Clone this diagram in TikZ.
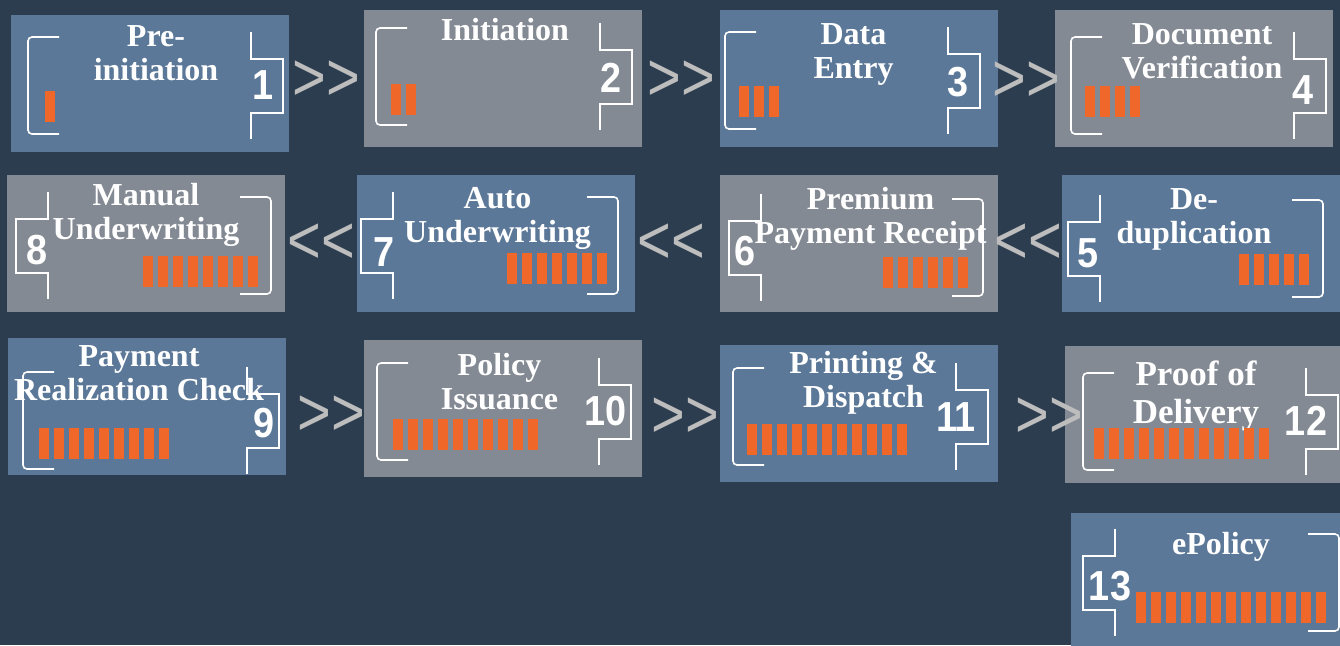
\documentclass[tikz,border=0pt]{standalone}
\usepackage{fontspec}
\newfontfamily\titleFont{Liberation Serif}
\newfontfamily\numFont[FakeStretch=0.9]{Liberation Sans}
\newfontfamily\arrowFont[FakeStretch=0.85]{Liberation Sans}
\usepackage{xcolor}
\definecolor{pageBg}{HTML}{2C3D50}
\definecolor{stepBlue}{HTML}{5B7898}
\definecolor{stepGrey}{HTML}{848A93}
\definecolor{barOrange}{HTML}{F0672A}
\definecolor{arrowGrey}{HTML}{BDBDBD}
\usetikzlibrary{positioning,calc}
\tikzset{%
  stageBox/.style={%
    rectangle,
    inner sep=0pt,
    outer sep=0pt,
    minimum width=139pt,
    minimum height=68.5pt,
    anchor=north west
  },
  blueBox/.style={stageBox, fill=stepBlue},
  greyBox/.style={stageBox, fill=stepGrey},
  titleText/.style={%
    text=white,
    font=\titleFont\bfseries\fontsize{16}{17}\selectfont,
    align=center,
    anchor=north,
    inner sep=0pt
  },
  stepNumber/.style={%
    text=white,
    font=\numFont\bfseries\fontsize{21}{21}\selectfont,
    inner sep=0pt
  },
  flowArrow/.style={%
    text=arrowGrey,
    font=\arrowFont\fontsize{34}{34}\selectfont,
    inner sep=0pt
  },
  markLine/.style={draw=white, line width=0.8pt},
  barFill/.style={fill=barOrange}
}
% brackets: number on the right / number on the left
\newcommand{\fwdMarks}[2]{%
  \draw[markLine, rounded corners=2pt] (#1+31,22) -- (#1,22) -- (#1,119) -- (#1+31,119);
  \draw[markLine] (#2,17) -- (#2,44) -- (#2+32,44) -- (#2+32,98) -- (#2,98) -- (#2,124);
}
\newcommand{\backMarks}[2]{%
  \draw[markLine] (#1,17) -- (#1,44) -- (#1-32,44) -- (#1-32,98) -- (#1,98) -- (#1,124);
  \draw[markLine, rounded corners=2pt] (#2-31,22) -- (#2,22) -- (#2,119) -- (#2-31,119);
}
\newcommand{\stepBars}[3]{%
  \foreach \k in {1,...,#1}
    \fill[barFill] ({#2+15*(\k-1)},#3) rectangle +(9.5,31);
}

\begin{document}
\begin{tikzpicture}[x=0.5pt, y=-0.5pt]
            \fill[pageBg] (0,0) rectangle (1340,645);
            \useasboundingbox (0,0) rectangle (1340,645);

            \node[blueBox] (preInit) at (11,15) {};
            \node[greyBox, right=37.5pt of preInit, yshift=2.5pt] (initiation) {};
            \node[blueBox, right=39pt of initiation] (dataEntry) {};
            \node[greyBox, right=28.5pt of dataEntry] (docVerify) {};

            \node[greyBox, below=11.5pt of preInit, xshift=-2pt] (manualUw) {};
            \node[blueBox, right=36pt of manualUw] (autoUw) {};
            \node[greyBox, right=42.5pt of autoUw] (premium) {};
            \node[blueBox, right=32pt of premium] (dedup) {};

            \node[blueBox, below=13pt of manualUw, xshift=0.5pt] (payCheck) {};
            \node[greyBox, right=39pt of payCheck, yshift=-1pt] (issuance) {};
            \node[blueBox, right=39pt of issuance, yshift=-2.5pt] (printing) {};
            \node[greyBox, right=33.5pt of printing, yshift=-0.5pt] (delivery) {};
            \node[blueBox, below=15pt of delivery, xshift=3pt] (ePolicy) {};

            \node[flowArrow] (arrowA) at ($(preInit.east)!0.5!(initiation.west)$) {>>};
            \node[flowArrow, yshift=-1pt] (arrowB) at ($(initiation.east)!0.5!(dataEntry.west)$) {>>};
            \node[flowArrow, yshift=-1.5pt] (arrowC) at ($(dataEntry.east)!0.5!(docVerify.west)$) {>>};
            \node[flowArrow, xshift=-1pt] (arrowD) at ($(premium.east)!0.5!(dedup.west)$) {<<};
            \node[flowArrow, xshift=-3pt] (arrowE) at ($(autoUw.east)!0.5!(premium.west)$) {<<};
            \node[flowArrow] (arrowF) at ($(manualUw.east)!0.5!(autoUw.west)$) {<<};
            \node[flowArrow, xshift=3pt, yshift=-4pt] (arrowG) at ($(payCheck.east)!0.5!(issuance.west)$) {>>};
            \node[flowArrow, xshift=2pt, yshift=-3.5pt] (arrowH) at ($(issuance.east)!0.5!(printing.west)$) {>>};
            \node[flowArrow, xshift=9pt, yshift=-2pt] (arrowI) at ($(printing.east)!0.5!(delivery.west)$) {>>};

            \begin{scope}[shift={(preInit.north west)}]
                \node[titleText] (preInitTitle) at (145,10) {Pre-\\initiation};
                \node[stepNumber] (preInitNum) at (252,70) {1};
                \fwdMarks{17}{240}
                \stepBars{1}{34}{76}
            \end{scope}
            \begin{scope}[shift={(initiation.north west)}, shift={(0,-4)}]
                \node[titleText] (initiationTitle) at (141,12) {Initiation};
                \node[stepNumber] (initiationNum) at (247.5,72) {2};
                \fwdMarks{12}{236}
                \stepBars{2}{27}{78}
            \end{scope}
            \begin{scope}[shift={(dataEntry.north west)}]
                \node[titleText] (dataEntryTitle) at (133.5,13) {Data\\Entry};
                \node[stepNumber] (dataEntryNum) at (238,72) {3};
                \fwdMarks{5}{228}
                \stepBars{3}{19}{76}
            \end{scope}
            \begin{scope}[shift={(docVerify.north west)}, shift={(0,5)}]
                \node[titleText] (docVerifyTitle) at (147,8) {Document\\Verification};
                \node[stepNumber] (docVerifyNum) at (248,75) {4};
                \fwdMarks{16}{239}
                \stepBars{4}{30}{71}
            \end{scope}

            \begin{scope}[shift={(manualUw.north west)}]
                \node[titleText] (manualUwTitle) at (139,8) {Manual\\Underwriting};
                \node[stepNumber] (manualUwNum) at (30,75) {8};
                \backMarks{41}{264}
                \stepBars{8}{136}{81}
            \end{scope}
            \begin{scope}[shift={(autoUw.north west)}]
                \node[titleText] (autoUwTitle) at (140.5,12) {Auto\\Underwriting};
                \node[stepNumber] (autoUwNum) at (27,77) {7};
                \backMarks{36}{261}
                \stepBars{7}{150}{78}
            \end{scope}
            \begin{scope}[shift={(premium.north west)}, shift={(0,2)}]
                \node[titleText] (premiumTitle) at (150.5,10) {Premium\\Payment Receipt};
                \node[stepNumber] (premiumNum) at (25,74) {6};
                \backMarks{41}{263}
                \stepBars{6}{163}{80}
            \end{scope}
            \begin{scope}[shift={(dedup.north west)}, shift={(0,3)}]
                \node[titleText] (dedupTitle) at (132,10) {De-\\duplication};
                \node[stepNumber] (dedupNum) at (26,75) {5};
                \backMarks{38}{261}
                \stepBars{5}{177}{76}
            \end{scope}

            \begin{scope}[shift={(payCheck.north west)}, shift={(0,12)}]
                \node[titleText] (payCheckTitle) at (131,-5) {Payment\\Realization Check};
                \node[stepNumber] (payCheckNum) at (256,73) {9};
                \fwdMarks{15}{239}
                \stepBars{9}{31}{78}
            \end{scope}
            \begin{scope}[shift={(issuance.north west)}, shift={(0,1)}]
                \node[titleText] (issuanceTitle) at (135.5,12) {Policy\\Issuance};
                \node[stepNumber] (issuanceNum) at (242,70) {10};
                \fwdMarks{13}{235}
                \stepBars{10}{29}{78}
            \end{scope}
            \begin{scope}[shift={(printing.north west)}, shift={(0,1)}]
                \node[titleText] (printingTitle) at (143.5,5) {Printing \&\\Dispatch};
                \node[stepNumber] (printingNum) at (236,71) {11};
                \fwdMarks{13}{236}
                \stepBars{11}{27}{78}
            \end{scope}
            \begin{scope}[shift={(delivery.north west)}, shift={(0,5)}]
                \node[titleText, font=\titleFont\bfseries\fontsize{17.5}{19}\selectfont] (deliveryTitle) at (131,9) {Proof of\\Delivery};
                \node[stepNumber] (deliveryNum) at (241,70) {12};
                \fwdMarks{18}{241}
                \stepBars{12}{29}{77}
            \end{scope}
            \begin{scope}[shift={(ePolicy.north west)}, shift={(0,-1)}]
                \node[titleText] (ePolicyTitle) at (150,20) {ePolicy};
                \node[stepNumber] (ePolicyNum) at (39,74) {13};
                \backMarks{44}{268}
                \stepBars{13}{65}{80}
            \end{scope}

        \end{tikzpicture}
\end{document}
